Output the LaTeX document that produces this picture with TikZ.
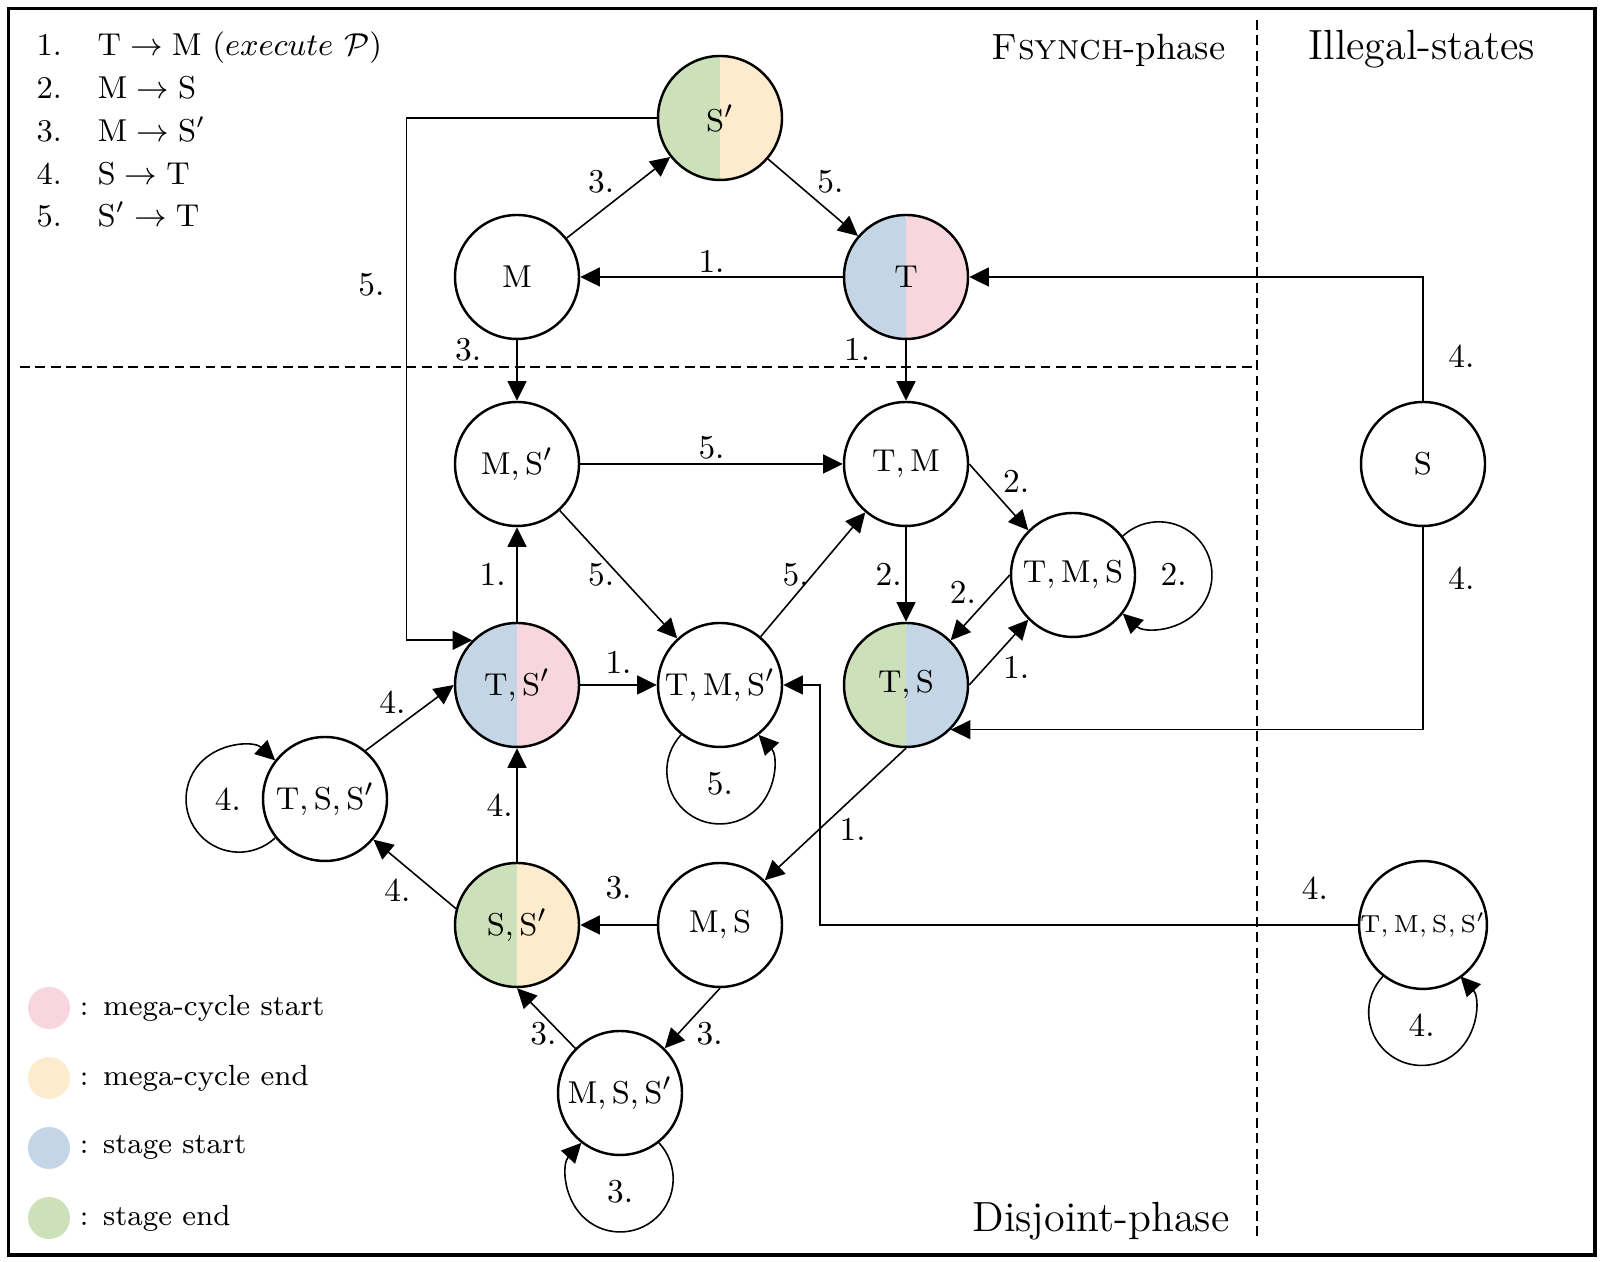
\documentclass[tikz,border=0pt]{standalone}
\usepackage{amsmath, amssymb}
\usepackage{xcolor}
\usepackage{tikz}
\usetikzlibrary{arrows.meta, calc, positioning}
\definecolor{megastart}{RGB}{248, 214, 221}
\definecolor{megaend}{RGB}{252, 235, 204}
\definecolor{stagestart}{RGB}{196, 214, 229}
\definecolor{stageend}{RGB}{204, 224, 185}

\begin{document}
\begin{tikzpicture}[
    state/.style   = {circle, draw, line width=0.7pt, minimum size=1.24cm,
                      inner sep=0pt, font=\fontsize{9.5pt}{11pt}\selectfont},
    halves/.style 2 args = {path picture={
        \fill[#1] (path picture bounding box.south west) rectangle (path picture bounding box.north);
        \fill[#2] (path picture bounding box.south) rectangle (path picture bounding box.north east);}},
    arrow/.style   = {-{Triangle[length=5.6pt, width=5.4pt]}, line width=0.45pt},
    lbl/.style     = {inner sep=1pt, font=\fontsize{9.5pt}{11pt}\selectfont},
    legendtxt/.style = {inner sep=0pt, font=\small},
    keytext/.style = {inner sep=0pt, font=\fontsize{8.3pt}{10pt}\selectfont},
    keydot/.style  = {circle, minimum size=0.42cm, inner sep=0pt},
    phase/.style   = {font=\large, anchor=base},
    divider/.style = {line width=0.6pt, dash pattern=on 2.8pt off 1.6pt},
  ]
  \useasboundingbox (0,0) rectangle (16.02,12.62);
  \draw[line width=0.9pt] (0.085,0.07) rectangle (15.95,12.535);
  \draw[divider] (0.20,8.95) -- (12.57,8.95);
  \draw[divider] (12.57,12.42) -- (12.57,0.26);

  \node[phase, anchor=base east, inner sep=0pt, font=\fontsize{10.4pt}{13pt}\selectfont] (fsynch) at (12.26,12.02) {\textsc{Fsynch}-phase};
  \node[phase] (illegal)  at (14.22,12.02) {Illegal-states};
  \node[phase] (disjoint) at (11.01,0.30) {Disjoint-phase};

  % transition rules
  \foreach \txt [count=\k] in {{$\mathrm{T}\rightarrow\mathrm{M}$ $(execute\ \mathcal{P})$},
      {$\mathrm{M}\rightarrow\mathrm{S}$}, {$\mathrm{M}\rightarrow\mathrm{S}'$},
      {$\mathrm{S}\rightarrow\mathrm{T}$}, {$\mathrm{S}'\rightarrow\mathrm{T}$}} {
    \node[legendtxt, anchor=base west] (num\k) at (0.36, {12.06-0.4275*(\k-1)}) {\k.};
    \node[legendtxt, anchor=base west] (rule\k) at (0.97, {12.06-0.4275*(\k-1)}) {\txt};
  }

  % colour key
  \foreach \col/\txt [count=\k] in {megastart/mega-cycle start, megaend/mega-cycle end,
      stagestart/stage start, stageend/stage end} {
    \node[keydot, fill=\col] (key\k) at (0.49, {2.54-0.70*(\k-1)}) {};
    \node[keytext, anchor=west, right=0.85mm of key\k] (keytxt\k) {:\enspace\txt};
  }

  % states
  \node[state, halves={stageend}{megaend}] (sp) at (7.20,11.44) {$\mathrm{S}'$};
  \node[state] (m) at (5.17,9.85) {$\mathrm{M}$};
  \node[state, halves={stagestart}{megastart}] (t) at (9.06,9.85) {$\mathrm{T}$};
  \node[state] (msp) at (5.17,7.98) {$\mathrm{M},\mathrm{S}'$};
  \node[state] (tm) at (9.06,7.98) {$\mathrm{T},\mathrm{M}$};
  \node[state] (s) at (14.23,7.98) {$\mathrm{S}$};
  \node[state] (tms) at (10.73,6.87) {$\mathrm{T},\mathrm{M},\mathrm{S}$};
  \node[state, halves={stagestart}{megastart}] (tsp) at (5.17,5.77) {$\mathrm{T},\mathrm{S}'$};
  \node[state] (tmsp) at (7.20,5.77) {$\mathrm{T},\mathrm{M},\mathrm{S}'$};
  \node[state, halves={stageend}{stagestart}] (ts) at (9.06,5.77) {$\mathrm{T},\mathrm{S}$};
  \node[state] (tssp) at (3.25,4.63) {$\mathrm{T},\mathrm{S},\mathrm{S}'$};
  \node[state, halves={stageend}{megaend}] (ssp) at (5.17,3.37) {$\mathrm{S},\mathrm{S}'$};
  \node[state] (ms) at (7.20,3.37) {$\mathrm{M},\mathrm{S}$};
  \node[state] (mssp) at (6.20,1.69) {$\mathrm{M},\mathrm{S},\mathrm{S}'$};
  \node[state, font=\fontsize{7.2pt}{9pt}\selectfont] (tmssp) at (14.23,3.37) {$\mathrm{T},\mathrm{M},\mathrm{S},\mathrm{S}'$};

  % Fsynch-phase
  \draw[arrow] (t) -- node[lbl, above] {1.} (m);
  \draw[arrow] (m) -- node[lbl, above left] {3.} (sp);
  \draw[arrow] (sp) -- node[lbl, above right] {5.} (t);
  \draw[arrow] (sp.west) -| node[lbl, pos=0.66, left=5pt] {5.} ([xshift=-6.6mm]tsp.north west) -- (tsp.north west);
  \draw[arrow] (m) -- node[lbl, pos=0.15, left=9pt] {3.} (msp);
  \draw[arrow] (t) -- node[lbl, pos=0.15, left=9pt] {1.} (tm);

  % Illegal-states
  \draw[arrow] (s.north) |- node[lbl, pos=0.18, right=6pt] {4.} (t.east);
  \draw[arrow] (s.south) |- node[lbl, pos=0.125, right=6pt] {4.} (ts.south east);
  \draw[arrow] (tmssp.west) -| node[lbl, pos=0.04, above=6pt] {4.} ([xshift=3.7mm]tmsp.east) -- (tmsp.east);
  \draw[arrow] (tmssp.-128) arc[start angle=-223, end angle=43, radius=0.53] node[lbl, midway, above=7pt] {4.};

  % Disjoint-phase
  \draw[arrow] (msp) -- node[lbl, above] {5.} (tm);
  \draw[arrow] (msp) -- node[lbl, left] {5.} (tmsp);
  \draw[arrow] (tmsp) -- node[lbl, left] {5.} (tm);
  \draw[arrow] (tm.east) -- node[lbl, above right] {2.} (tms.north west);
  \draw[arrow] (tm) -- node[lbl, left] {2.} (ts);
  \draw[arrow] (tms.west) -- node[lbl, above left] {2.} (ts.north east);
  \draw[arrow] (ts.east) -- node[lbl, below right] {1.} (tms.south west);
  \draw[arrow] (tms.38) arc[start angle=133, end angle=-133, radius=0.53] node[lbl, midway, left=6pt] {2.};
  \draw[arrow] (tsp) -- node[lbl, left=2pt] {1.} (msp);
  \draw[arrow] (tsp) -- node[lbl, above=2pt] {1.} (tmsp);
  \draw[arrow] (tmsp.-128) arc[start angle=-223, end angle=43, radius=0.53] node[lbl, midway, above=7pt] {5.};
  \draw[arrow] (tssp.50) -- node[lbl, above left] {4.} (tsp.west);
  \draw[arrow] (tssp.218) arc[start angle=313, end angle=47, radius=0.53] node[lbl, midway, right=7pt] {4.};
  \draw[arrow] (ssp) -- node[lbl, left] {4.} (tsp);
  \draw[arrow] (ssp.165) -- node[lbl, below left] {4.} (tssp.-40);
  \draw[arrow] (ms) -- node[lbl, above=6pt] {3.} (ssp);
  \draw[arrow] (ms.south) -- node[lbl, below right] {3.} (mssp.north east);
  \draw[arrow] (mssp.north west) -- node[lbl, pos=0.25, left] {3.} (ssp.south);
  \draw[arrow] (mssp.-52) arc[start angle=43, end angle=-223, radius=0.53] node[lbl, midway, above=7pt] {3.};
  \draw[arrow] (ts.south) -- node[lbl, below right] {1.} (ms.north east);
\end{tikzpicture}
\end{document}
